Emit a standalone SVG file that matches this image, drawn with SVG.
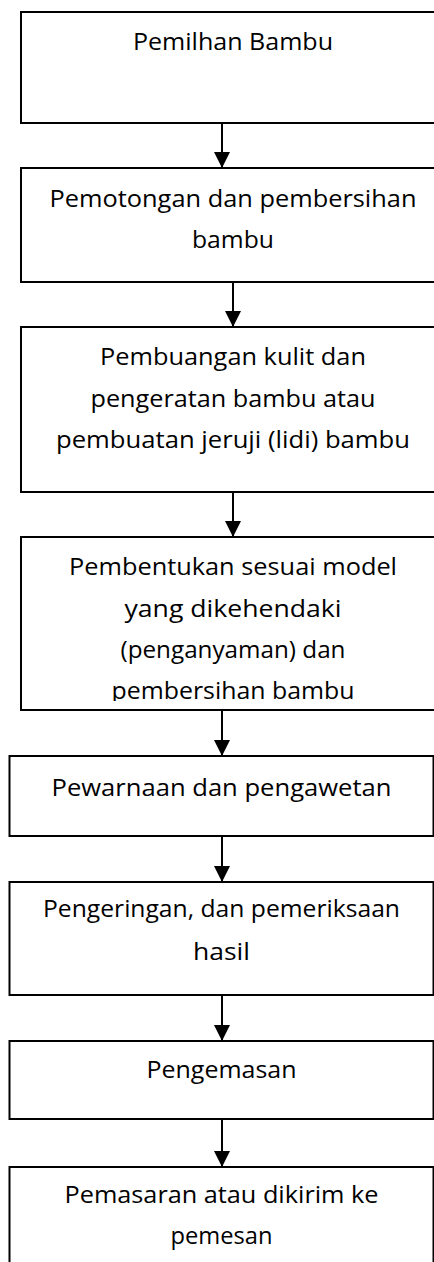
<svg xmlns="http://www.w3.org/2000/svg" width="434" height="1262" viewBox="0 0 434 1262">
<style>
.box{fill:#fff;stroke:#000;stroke-width:2}
.t{font-family:"Open Sans","Liberation Sans",sans-serif;font-size:23px;fill:#000;text-anchor:middle}
.c{stroke:#000;stroke-width:2;fill:none}
</style>
<defs>
<marker id="ah" markerUnits="userSpaceOnUse" markerWidth="16" markerHeight="16" refX="16" refY="8" orient="auto">
<path d="M0,0 L16,8 L0,16 Z" fill="#000"/>
</marker>
<clipPath id="clip4"><rect x="21" y="537" width="424" height="164"/></clipPath>
</defs>
<rect width="434" height="1262" fill="#fff"/>
<g id="connectors">
<line class="c" x1="222" y1="123" x2="222" y2="168" marker-end="url(#ah)"/>
<line class="c" x1="233" y1="282" x2="233" y2="327" marker-end="url(#ah)"/>
<line class="c" x1="233" y1="492" x2="233" y2="537" marker-end="url(#ah)"/>
<line class="c" x1="222" y1="710" x2="222" y2="756" marker-end="url(#ah)"/>
<line class="c" x1="222" y1="836" x2="222" y2="882" marker-end="url(#ah)"/>
<line class="c" x1="222" y1="995" x2="222" y2="1041" marker-end="url(#ah)"/>
<line class="c" x1="222" y1="1119" x2="222" y2="1167" marker-end="url(#ah)"/>
</g>
<g id="n1">
<rect class="box" x="21" y="12" width="424" height="111"/>
<text class="t" x="233" y="50" textLength="200" lengthAdjust="spacingAndGlyphs">Pemilhan Bambu</text>
</g>
<g id="n2">
<rect class="box" x="21" y="168" width="424" height="114"/>
<text class="t" x="233" y="207" textLength="367" lengthAdjust="spacingAndGlyphs">Pemotongan dan pembersihan</text>
<text class="t" x="233" y="248" textLength="82" lengthAdjust="spacingAndGlyphs">bambu</text>
</g>
<g id="n3">
<rect class="box" x="21" y="327" width="424" height="165"/>
<text class="t" x="233" y="365" textLength="266" lengthAdjust="spacingAndGlyphs">Pembuangan kulit dan</text>
<text class="t" x="233" y="407" textLength="285" lengthAdjust="spacingAndGlyphs">pengeratan bambu atau</text>
<text class="t" x="233" y="448" textLength="354" lengthAdjust="spacingAndGlyphs">pembuatan jeruji (lidi) bambu</text>
</g>
<g id="n4">
<rect class="box" x="21" y="537" width="424" height="173"/>
<g clip-path="url(#clip4)">
<text class="t" x="233" y="575" textLength="328" lengthAdjust="spacingAndGlyphs">Pembentukan sesuai model</text>
<text class="t" x="233" y="617" textLength="217" lengthAdjust="spacingAndGlyphs">yang dikehendaki</text>
<text class="t" x="233" y="658" textLength="225" lengthAdjust="spacingAndGlyphs">(penganyaman) dan</text>
<text class="t" x="233" y="699" textLength="243" lengthAdjust="spacingAndGlyphs">pembersihan bambu</text>
</g>
</g>
<g id="n5">
<rect class="box" x="9.5" y="756" width="424" height="80"/>
<text class="t" x="221.5" y="796" textLength="340" lengthAdjust="spacingAndGlyphs">Pewarnaan dan pengawetan</text>
</g>
<g id="n6">
<rect class="box" x="9.5" y="882" width="424" height="113"/>
<text class="t" x="221.5" y="917" textLength="357" lengthAdjust="spacingAndGlyphs">Pengeringan, dan pemeriksaan</text>
<text class="t" x="221.5" y="960" textLength="57" lengthAdjust="spacingAndGlyphs">hasil</text>
</g>
<g id="n7">
<rect class="box" x="9.5" y="1041" width="424" height="78"/>
<text class="t" x="221.5" y="1078" textLength="150" lengthAdjust="spacingAndGlyphs">Pengemasan</text>
</g>
<g id="n8">
<rect class="box" x="9.5" y="1167" width="424" height="120"/>
<text class="t" x="221.5" y="1203" textLength="314" lengthAdjust="spacingAndGlyphs">Pemasaran atau dikirim ke</text>
<text class="t" x="221.5" y="1244" textLength="102" lengthAdjust="spacingAndGlyphs">pemesan</text>
</g>
</svg>
